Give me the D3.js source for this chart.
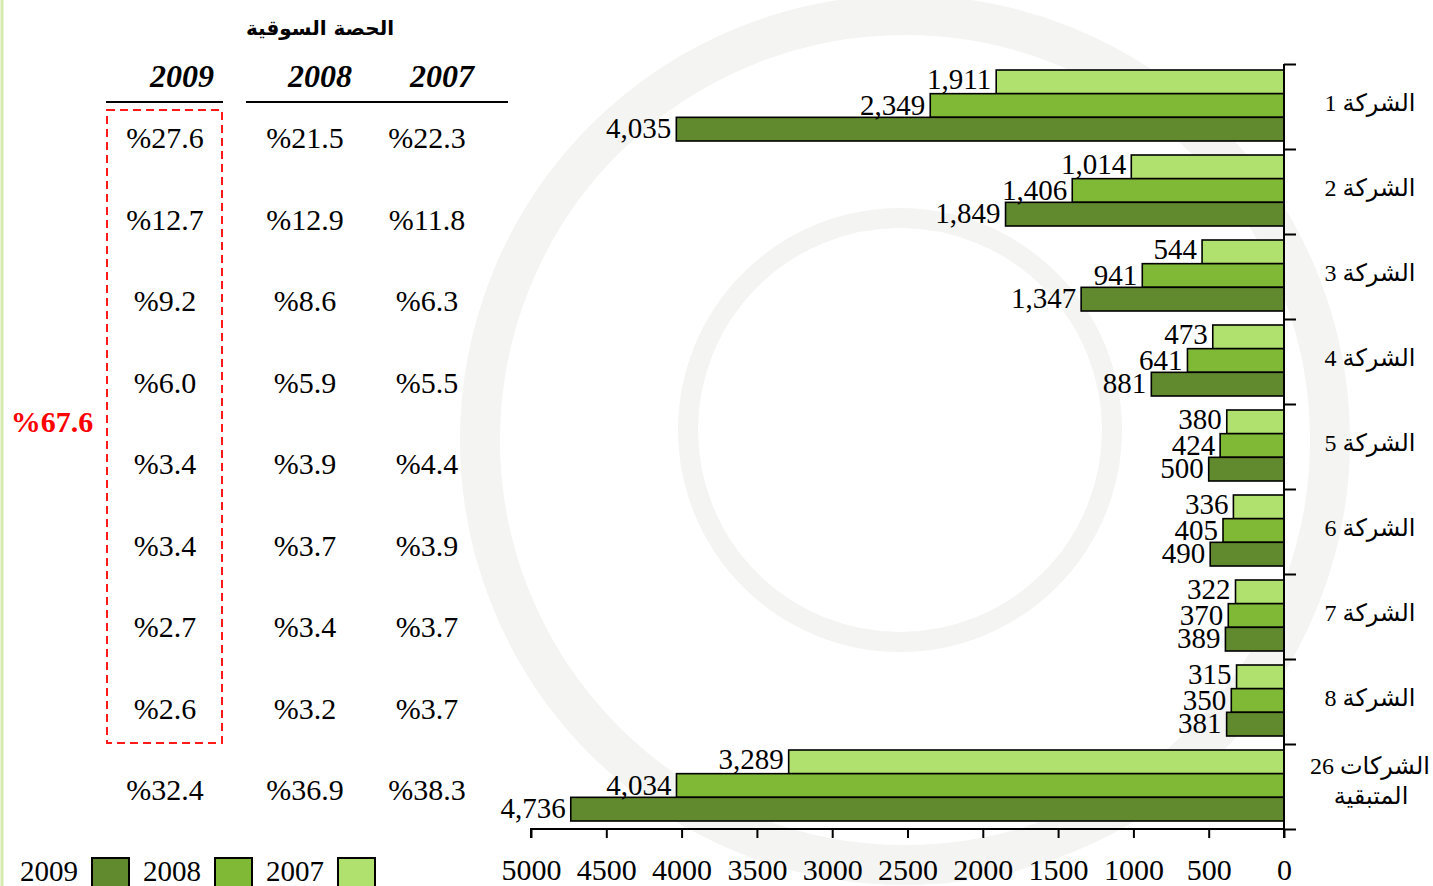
<!DOCTYPE html>
<html>
<head>
<meta charset="utf-8">
<script src="https://cdn.jsdelivr.net/npm/d3@7"></script>
<style>
html,body{margin:0;padding:0;background:#fff;overflow:hidden;}
svg{display:block;}
</style>
</head>
<body>
<svg id="chart" width="1433" height="886"></svg>
<script>
// ---------- data ----------
const categories = ["الشركة 1","الشركة 2","الشركة 3","الشركة 4","الشركة 5","الشركة 6","الشركة 7","الشركة 8","الشركات 26|المتبقية"];
const years = ["2007","2008","2009"];
const values2007 = [1911, 1014, 544, 473, 380, 336, 322, 315, 3289];
const values2008 = [2349, 1406, 941, 641, 424, 405, 370, 350, 4034];
const values2009 = [4035, 1849, 1347, 881, 500, 490, 389, 381, 4736];
const share2009 = [27.6, 12.7, 9.2, 6.0, 3.4, 3.4, 2.7, 2.6, 32.4];
const share2008 = [21.5, 12.9, 8.6, 5.9, 3.9, 3.7, 3.4, 3.2, 36.9];
const share2007 = [22.3, 11.8, 6.3, 5.5, 4.4, 3.9, 3.7, 3.7, 38.3];
const top8Share = 67.6;
const xTicks = [0, 500, 1000, 1500, 2000, 2500, 3000, 3500, 4000, 4500, 5000];
const tableTitle = "الحصة السوقية";

const colors = {"2009":"#618a2f","2008":"#7fb935","2007":"#b0e06e"};
const serif = "'Liberation Serif','Times New Roman','DejaVu Serif',serif";
const arab = "'Liberation Serif','DejaVu Sans',serif";

const svg = d3.select("#chart");

// left border line
svg.append("line").attr("x1",2).attr("x2",2).attr("y1",0).attr("y2",886)
  .attr("stroke","#d6eab0").attr("stroke-width",3);

// faint watermark rings
const wm = svg.append("g").attr("fill","none").attr("stroke","#f4f5f2");
wm.append("circle").attr("cx",905).attr("cy",440).attr("r",425).attr("stroke-width",40);
wm.append("circle").attr("cx",900).attr("cy",430).attr("r",212).attr("stroke-width",20);

// ---------- scales ----------
const x = d3.scaleLinear().domain([0,5000]).range([1284, 531]);
const y0 = d3.scaleBand().domain(d3.range(categories.length)).range([64, 829]);
const y1 = d3.scaleBand().domain(years).range([6, 77]);

const seriesData = {"2007":values2007,"2008":values2008,"2009":values2009};

// ---------- bars ----------
const groups = svg.append("g").selectAll("g").data(categories).join("g")
  .attr("transform",(d,i)=>`translate(0,${y0(i)})`);

years.forEach(yr=>{
  groups.append("rect")
    .attr("x",(d,i)=>x(seriesData[yr][i]))
    .attr("y",y1(yr))
    .attr("width",(d,i)=>x(0)-x(seriesData[yr][i]))
    .attr("height",y1.bandwidth())
    .attr("fill",colors[yr]).attr("stroke","#000").attr("stroke-width",1.6);
});
const labOff = {"2007":-5,"2008":-2,"2009":-3};
years.forEach(yr=>{
  groups.append("text")
    .attr("x",(d,i)=>x(seriesData[yr][i])-5)
    .attr("y",y1(yr)+y1.bandwidth()+labOff[yr])
    .attr("text-anchor","end")
    .attr("font-family",serif).attr("font-size",29).attr("fill","#000")
    .text((d,i)=>d3.format(",")(seriesData[yr][i]));
});

// ---------- axes ----------
const xAxis = d3.axisBottom(x).tickValues(xTicks).tickSize(9).tickPadding(21).tickFormat(d3.format("d"));
const gx = svg.append("g").attr("transform","translate(0,829)").call(xAxis);
gx.select(".domain").attr("stroke","#000").attr("stroke-width",2).attr("d",`M${x(5000)},9V0H${x(0)}V9`);
gx.selectAll(".tick line").attr("stroke","#000").attr("stroke-width",2);
gx.selectAll(".tick text").attr("font-family",serif).attr("font-size",30).attr("fill","#000");

const yAxis = d3.axisRight(d3.scaleLinear().domain([0,categories.length]).range([64,829]))
  .tickValues(d3.range(categories.length+1)).tickSize(12).tickFormat("");
const gy = svg.append("g").attr("transform",`translate(${x(0)},0)`).call(yAxis);
gy.select(".domain").attr("stroke","#000").attr("stroke-width",2).attr("d","M0,64V838");
gy.selectAll(".tick line").attr("stroke","#000").attr("stroke-width",2);
svg.append("line").attr("x1",x(0)-10).attr("x2",x(0)).attr("y1",829).attr("y2",829).attr("stroke","#000").attr("stroke-width",2);

// category labels
categories.forEach((c,i)=>{
  const parts = c.split("|");
  const t = svg.append("text").attr("text-anchor","middle")
    .attr("font-family",arab).attr("font-size",24).attr("fill","#000")
    .attr("direction","rtl");
  if(parts.length===1){
    t.attr("x",1370).attr("y",y0(i)+47).text(parts[0]);
  } else {
    t.append("tspan").attr("x",1370).attr("y",y0(i)+30).text(parts[0]);
    t.append("tspan").attr("x",1371).attr("y",y0(i)+60).text(parts[1]);
  }
});

// ---------- table ----------
svg.append("text").attr("x",320).attr("y",35).attr("text-anchor","middle")
  .attr("font-family","'DejaVu Sans',sans-serif").attr("font-weight","bold").attr("font-size",20)
  .attr("direction","rtl").text(tableTitle);

const cols = [{yr:"2009",cx:165,hx:182,data:share2009},{yr:"2008",cx:305,hx:320,data:share2008},{yr:"2007",cx:427,hx:442,data:share2007}];
cols.forEach(c=>{
  svg.append("text").attr("x",c.hx).attr("y",87).attr("text-anchor","middle")
    .attr("font-family",serif).attr("font-weight","bold").attr("font-style","italic").attr("font-size",32)
    .text(c.yr);
});
svg.append("line").attr("x1",106).attr("x2",223).attr("y1",102).attr("y2",102).attr("stroke","#000").attr("stroke-width",2);
svg.append("line").attr("x1",246).attr("x2",508).attr("y1",102).attr("y2",102).attr("stroke","#000").attr("stroke-width",2);

const rowY = d3.scalePoint().domain(d3.range(categories.length)).range([138, 790]);
cols.forEach(c=>{
  svg.append("g").selectAll("text").data(c.data).join("text")
    .attr("x",c.cx).attr("y",(d,i)=>rowY(i)+10)
    .attr("text-anchor","middle").attr("font-family",serif).attr("font-size",30).attr("fill","#000")
    .text(d=>"%"+d.toFixed(1));
});

// red dashed box
svg.append("rect").attr("x",107).attr("y",110).attr("width",115).attr("height",633)
  .attr("fill","none").attr("stroke","#ff1a1a").attr("stroke-width",2).attr("stroke-dasharray","8,5");
svg.append("text").attr("x",52).attr("y",432).attr("text-anchor","middle")
  .attr("font-family",serif).attr("font-weight","bold").attr("font-size",30).attr("fill","#ff0000")
  .text("%"+top8Share.toFixed(1));

// ---------- legend ----------
const legendYears = ["2009","2008","2007"];
const lg = svg.append("g").selectAll("g").data(legendYears).join("g")
  .attr("transform",(d,i)=>`translate(${20+i*123},0)`);
lg.append("text").attr("x",0).attr("y",881).attr("font-family",serif).attr("font-size",29).text(d=>d);
lg.append("rect").attr("x",72).attr("y",858).attr("width",37).attr("height",34)
  .attr("fill",d=>colors[d]).attr("stroke","#000").attr("stroke-width",2);
</script>
</body>
</html>
